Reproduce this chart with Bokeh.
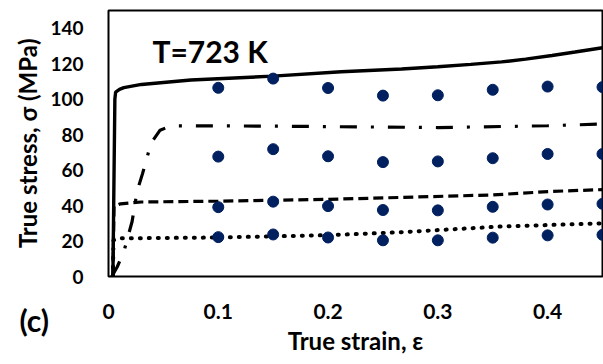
from bokeh.plotting import figure
from bokeh.models import Range1d, FixedTicker, Label, Title
from bokeh.embed import file_html
from bokeh.resources import INLINE

# ---- data ----
solid_strain = [0.004, 0.0058, 0.0065, 0.010, 0.014, 0.030, 0.075, 0.150, 0.212, 0.267, 0.300, 0.330, 0.358, 0.380, 0.404, 0.425, 0.450]
solid_stress = [0.0, 100.0, 104.0, 105.5, 106.5, 108.3, 110.8, 113.0, 115.5, 117.0, 118.3, 119.6, 121.0, 122.6, 124.6, 126.6, 129.0]

dashdot_strain = [0.003, 0.008, 0.014, 0.0215, 0.026, 0.031, 0.035, 0.039, 0.047, 0.055, 0.062, 0.150, 0.200, 0.300, 0.400, 0.450]
dashdot_stress = [0.0, 5.5, 14.0, 31.0, 48.0, 58.0, 67.0, 75.5, 82.5, 84.5, 85.0, 84.8, 84.5, 84.0, 85.0, 86.0]

dashed_strain = [0.004, 0.005, 0.011, 0.030, 0.100, 0.200, 0.267, 0.350, 0.404, 0.450]
dashed_stress = [0.0, 39.5, 41.0, 42.0, 42.5, 43.5, 44.6, 46.0, 48.0, 49.0]

dotted_strain = [0.004, 0.0045, 0.010, 0.100, 0.200, 0.267, 0.358, 0.450]
dotted_stress = [0.0, 20.5, 21.5, 22.0, 23.3, 25.0, 28.2, 30.0]

pt_strain = [0.10, 0.15, 0.20, 0.25, 0.30, 0.35, 0.40, 0.45]
pt_row1 = [106.4, 111.6, 106.3, 102.0, 102.2, 105.3, 107.1, 106.8]
pt_row2 = [67.6, 71.8, 67.8, 64.5, 64.9, 66.7, 69.1, 69.1]
pt_row3 = [39.1, 42.2, 39.7, 37.5, 37.3, 39.3, 40.6, 41.0]
pt_row4 = [22.2, 23.7, 22.0, 20.4, 20.4, 21.9, 23.2, 23.5]

x_ticks = [0, 0.1, 0.2, 0.3, 0.4]
y_ticks = [0, 20, 40, 60, 80, 100, 120, 140]

FONT = "Lato"

p = figure(width=603, height=364, output_backend="svg", toolbar_location=None,
           x_range=Range1d(0, 0.45), y_range=Range1d(0, 150),
           min_border_left=108, min_border_right=1, min_border_top=10, min_border_bottom=82)

p.xgrid.visible = False
p.ygrid.visible = False
p.outline_line_color = "black"
p.outline_line_width = 2
p.background_fill_color = "white"
p.border_fill_color = "white"

# lines
p.line(solid_strain, solid_stress, line_color="black", line_width=3.4)
p.line(dashdot_strain, dashdot_stress, line_color="black", line_width=3.2, line_dash="17 14 3 14")
p.line(dashed_strain, dashed_stress, line_color="black", line_width=3.2, line_dash="10 5")
p.line(dotted_strain, dotted_stress, line_color="black", line_width=4, line_dash="1 8", line_cap="round")

# experimental points
for row in (pt_row1, pt_row2, pt_row3, pt_row4):
    p.scatter(pt_strain, row, size=11, fill_color="#002060", line_color="#002060")

# axes
for ax in (p.xaxis[0], p.yaxis[0]):
    ax.axis_line_color = None
    ax.major_tick_line_color = None
    ax.minor_tick_line_color = None
    ax.major_tick_out = 0
    ax.major_tick_in = 0
    ax.minor_tick_out = 0
    ax.major_label_text_font = FONT
    ax.major_label_text_font_style = "bold"
    ax.major_label_text_color = "black"
    ax.axis_label_text_font = FONT
    ax.axis_label_text_font_style = "bold"
    ax.axis_label_text_color = "black"
    ax.axis_label_text_font_size = "24px"

p.xaxis.ticker = FixedTicker(ticks=x_ticks)
p.xaxis.major_label_overrides = {0: "0"}
p.xaxis.major_label_text_font_size = "21px"
p.xaxis.major_label_standoff = 27
p.xaxis.axis_label = "True strain, ε"
p.xaxis.axis_label_standoff = 4

p.yaxis.ticker = FixedTicker(ticks=y_ticks)
p.yaxis.major_label_text_font_size = "19px"
p.yaxis.major_label_standoff = 25
p.yaxis.axis_label = "True stress, σ (MPa)"
p.yaxis.axis_label_standoff = 5

p.add_layout(Label(x=0.040, y=126.9, text="T=723 K",
                   text_font=FONT, text_font_style="bold", text_font_size="30px",
                   text_color="black", text_baseline="alphabetic"))

# panel tag "(c)" in the bottom-left corner (side-panel title with zero net height)
tag = Title(text="(c)\n", align="left", vertical_align="middle", offset=-89, standoff=-114,
            text_font=FONT, text_font_style="bold", text_font_size="30px",
            text_line_height=2.3, text_color="black")
p.add_layout(tag, "below")

open("out.html", "w").write(file_html(p, INLINE))
